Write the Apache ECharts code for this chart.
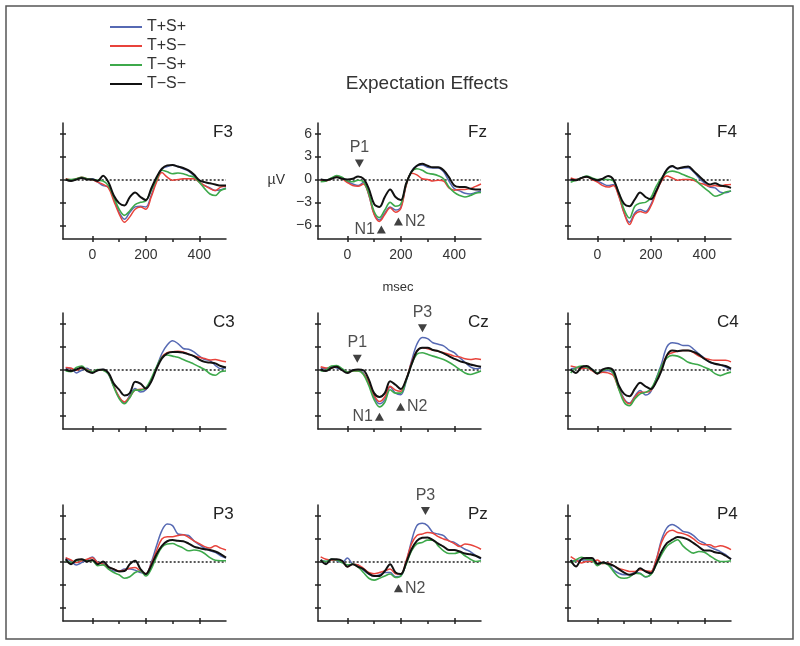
<!DOCTYPE html>
<html><head><meta charset="utf-8">
<script src="https://cdn.jsdelivr.net/npm/echarts@6/dist/echarts.min.js"></script>
<style>html,body{margin:0;padding:0;background:#fff}#c{width:800px;height:646px}</style>
</head><body><div id="c"></div>
<script>
// ---------- DATA ----------
const times = [-100,-80,-60,-40,-20,0,20,40,60,80,100,120,140,160,180,200,220,240,260,280,300,320,340,360,380,400,420,440,460,480,500];
const seriesNames = ['T+S+','T+S\u2212','T\u2212S+','T\u2212S\u2212'];
const panelNames = ['F3','Fz','F4','C3','Cz','C4','P3','Pz','P4'];
const xTickValues = [0,100,200,300,400];
const xLabelValues = [0,200,400];
const yTickValues = [-6,-3,0,3,6];

// F3
const f3Blue  = [0,-0.1,0.05,0.25,0.1,0.1,-0.35,-0.8,-1.0,-2.5,-4.3,-5.2,-4.3,-3.6,-3.5,-3.6,-2.1,-0.1,1.4,1.7,1.85,1.7,1.4,1.1,0.5,-0.35,-0.8,-1.1,-1.45,-1.35,-1.1];
const f3Red   = [0.1,-0.05,0.1,0.3,0.1,-0.05,-0.35,-0.65,-1.1,-2.8,-4.5,-5.6,-4.9,-3.9,-3.6,-3.9,-2.3,-0.35,0.9,0.3,-0.1,0,0.1,0.1,0.1,-0.35,-0.8,-1.2,-1.45,-1.0,-0.9];
const f3Green = [0,0,0.1,0.3,0.1,0,-0.1,-0.2,-0.8,-2.3,-3.9,-4.7,-4.1,-3.3,-3.0,-2.8,-1.45,0,1.2,1.0,0.75,0.85,0.75,0.5,0.3,-0.35,-1.2,-1.9,-2.1,-1.45,-1.2];
const f3Black = [0,-0.2,0,0.2,0,0,-0.2,0.5,-0.35,-2.1,-3.1,-3.4,-2.3,-1.7,-2.3,-2.7,-1.2,0.3,1.4,1.85,1.9,1.7,1.5,1.2,0.65,-0.1,-0.35,-0.5,-0.65,-0.8,-0.8];
// Fz
const fzBlue  = [0,-0.1,0.1,0.4,0.2,-0.3,-0.6,-0.8,-0.4,-2.0,-4.5,-5.3,-4.4,-3.6,-4.0,-3.6,-0.7,1.1,1.8,1.9,1.6,1.5,1.5,1.0,-0.2,-1.2,-1.5,-1.8,-1.9,-1.7,-1.5];
const fzRed   = [-0.1,-0.2,0.1,0.4,0.1,-0.4,-0.8,-0.9,-0.6,-2.0,-4.6,-5.5,-4.6,-3.7,-4.3,-3.8,-0.8,0.8,0.6,0.1,0,-0.2,-0.1,-0.2,-1.1,-1.4,-1.3,-1.3,-1.2,-0.9,-0.6];
const fzGreen = [-0.3,-0.2,0.2,0.5,0.3,-0.2,-0.3,-0.1,-0.3,-1.8,-4.2,-5.0,-4.0,-3.0,-3.5,-3.2,-0.6,1.0,1.4,1.2,0.8,0.7,0.5,0.1,-1.0,-1.7,-2.1,-2.3,-2.1,-1.8,-1.7];
const fzBlack = [0,-0.1,0.1,0.3,0.1,0,0.1,0.4,0.1,-1.2,-3.2,-3.6,-2.3,-1.3,-2.3,-2.7,-0.5,1.0,1.8,2.05,1.8,1.6,1.6,1.2,0.3,-0.8,-1.0,-1.0,-1.2,-1.3,-1.3];
// F4
const f4Blue  = [-0.1,0,0.2,0.35,0.1,-0.2,-0.55,-0.8,-0.65,-2.1,-4.4,-5.6,-4.4,-3.95,-4.2,-3.3,-1.5,0,1.3,1.7,1.4,1.5,1.55,1.0,0.2,-0.45,-1.0,-1.1,-1.65,-1.75,-1.5];
const f4Red   = [0.2,0,0.15,0.35,0,-0.35,-0.8,-1.0,-0.8,-2.2,-4.4,-5.9,-4.6,-4.2,-4.4,-3.5,-1.75,-0.2,0.45,0.2,-0.1,0,0,-0.1,-0.45,-0.65,-0.9,-0.8,-0.9,-0.7,-0.65];
const f4Green = [-0.35,-0.1,0.2,0.45,0.2,0,0,0,-0.2,-1.75,-3.95,-5.05,-3.5,-3.1,-3.0,-2.4,-0.9,0.2,0.9,1.1,0.95,0.65,0.35,0.1,-0.5,-1.1,-1.65,-2.2,-2.0,-1.65,-1.5];
const f4Black = [0,-0.1,0.2,0.35,0.1,-0.1,0.1,0.45,0,-1.75,-3.2,-3.5,-2.6,-1.7,-2.3,-2.6,-1.5,0,1.3,1.75,1.45,1.6,1.7,1.1,0.45,-0.2,-0.65,-0.5,-0.8,-0.9,-1.1];
// C3
const c3Blue  = [0.15,0.15,-0.45,-0.1,0.15,-0.3,-0.1,0,-0.6,-2.2,-3.6,-4.4,-3.4,-2.5,-2.95,-2.65,-1.4,0.25,2.1,3.2,3.75,3.4,2.75,2.65,2.3,1.75,1.3,1.15,0.55,0.1,0.25];
const c3Red   = [0.25,0.15,-0.1,0.15,0,-0.3,-0.1,-0.1,-0.55,-2.2,-3.6,-4.25,-3.6,-2.7,-2.6,-2.5,-1.4,0.15,1.65,2.2,2.3,2.4,2.3,2.0,1.75,1.6,1.45,1.25,1.3,1.15,1.0];
const c3Green = [-0.2,-0.3,0.25,0.45,-0.1,-0.3,0,-0.1,-0.6,-2.3,-3.8,-4.5,-3.7,-2.7,-2.7,-2.4,-1.2,0.35,1.6,1.9,1.75,1.6,1.3,1.0,0.7,0.35,0,-0.55,-0.75,-0.3,-0.2];
const c3Black = [0,-0.2,0,0.25,-0.2,-0.45,-0.1,0,-0.45,-1.85,-2.65,-3.4,-3.1,-1.6,-1.85,-2.5,-1.6,0.1,1.45,2.1,2.3,2.3,2.2,2.0,1.75,1.3,1.0,0.9,0.8,0.45,0.25];
// Cz
const czBlue  = [0.2,0.1,0.35,0.2,0,-0.35,-0.1,-0.1,-0.45,-1.85,-3.6,-4.5,-3.95,-2.3,-3.1,-3.3,-1.55,1.1,3.3,4.2,4.05,3.5,3.3,3.1,2.55,2.2,1.55,0.95,0.35,0.1,0.2];
const czRed   = [0.35,0.2,0.2,0.35,0,-0.35,-0.2,-0.2,-0.55,-1.75,-3.4,-4.2,-3.6,-2.2,-2.7,-2.85,-1.3,0.9,2.4,2.85,2.7,2.55,2.4,2.2,2.0,1.75,1.65,1.4,1.3,1.4,1.3];
const czGreen = [-0.2,-0.1,0.45,0.5,0.1,-0.35,-0.2,-0.2,-0.65,-2.1,-3.95,-4.9,-4.3,-2.65,-3.1,-3.1,-1.4,0.65,2.0,2.2,2.0,1.75,1.55,1.3,0.95,0.5,0,-0.45,-0.65,-0.45,-0.2];
const czBlack = [0,-0.2,0.2,0.35,-0.1,-0.45,-0.1,0,-0.1,-1.3,-3.1,-3.6,-3.1,-1.55,-2.0,-2.55,-1.3,0.65,2.4,2.85,2.85,2.55,2.4,2.1,1.75,1.4,1.1,0.9,0.65,0.5,0.35];
// C4
const c4Blue  = [0.1,0.2,0.3,0.2,0,-0.45,-0.25,-0.15,-0.55,-2.3,-3.85,-4.4,-3.5,-2.75,-3.35,-2.9,-1.2,0.75,2.95,3.5,3.4,3.15,3.15,2.65,2.05,1.5,0.95,0.75,0.6,0.3,0];
const c4Red   = [0.45,0.3,0.1,0.2,-0.15,-0.55,-0.35,-0.45,-0.8,-2.55,-3.95,-4.5,-3.65,-3.0,-3.0,-2.75,-1.45,0.3,1.85,2.2,2.4,2.5,2.5,2.2,1.75,1.5,1.3,1.2,1.2,1.2,1.0];
const c4Green = [-0.45,0.2,0.45,0.3,0,-0.45,-0.15,0.1,-0.55,-2.55,-4.3,-4.75,-3.85,-3.2,-3.0,-2.55,-1.25,0.45,1.5,1.85,1.75,1.4,0.95,0.75,0.6,0.3,0,-0.55,-0.8,-0.55,-0.35];
const c4Black = [0,-0.45,0.3,0.45,0,-0.55,0,0.2,-0.15,-2.1,-3.2,-3.5,-2.55,-1.75,-2.2,-2.55,-1.65,-0.15,1.85,2.5,2.4,2.5,2.5,2.3,1.95,1.4,1.0,0.75,0.6,0.45,0.1];
// P3
const p3Blue  = [0.45,0,-0.45,-0.15,0.2,0.6,-0.15,-0.25,-0.9,-1.25,-1.25,-1.0,-1.0,-1.15,-1.45,-1.65,-0.15,2.05,4.05,4.9,4.7,3.6,3.5,3.4,2.7,2.2,1.75,1.4,1.2,0.75,0.45];
const p3Red   = [0.5,0.2,-0.15,0.1,0.3,0.5,-0.15,-0.35,-0.8,-1.0,-1.25,-1.15,-0.9,-0.8,-1.25,-1.6,-0.35,1.4,2.95,3.25,3.25,3.4,3.5,3.15,2.7,2.35,1.95,1.75,2.05,1.75,1.5];
const p3Green = [0.1,-0.15,0.1,0.25,0.1,0.1,-0.55,-0.45,-1.0,-1.45,-1.75,-2.2,-2.0,-1.45,-1.25,-1.9,-1.0,0.6,1.85,2.3,2.35,2.05,1.75,1.4,1.5,1.4,1.05,0.5,0.15,0.1,0.1];
const p3Black = [0.3,-0.35,0.2,0.3,0,0.2,-0.35,0,-0.7,-1.0,-1.3,-1.25,-0.35,0.1,-1.0,-1.65,-0.55,0.95,2.05,2.65,2.8,2.7,2.65,2.35,1.95,1.75,1.6,1.5,1.3,0.95,0.5];
// Pz
const pzBlue  = [0.2,0,0.3,0.1,-0.15,0.45,-0.35,-0.45,-1.15,-1.65,-1.9,-1.75,-1.45,-1.45,-2.0,-1.9,-0.15,2.7,4.7,5.0,4.7,3.8,3.6,3.4,2.7,2.5,2.05,1.6,1.3,0.75,0.3];
const pzRed   = [0.6,0.3,0.2,0.2,0,-0.7,-0.35,-0.45,-0.9,-1.45,-1.6,-1.45,-1.25,-1.0,-1.6,-1.65,0.1,2.3,3.4,3.6,3.8,3.7,3.25,2.95,2.7,2.35,1.95,2.3,2.2,1.95,1.6];
const pzGreen = [0.1,0,0.3,0.2,-0.15,-0.45,-0.35,-0.7,-1.45,-2.2,-2.45,-2.2,-1.9,-1.65,-2.1,-1.9,-0.35,1.4,2.3,2.5,2.8,2.8,2.05,1.4,1.05,1.05,1.2,0.75,0.3,0,0.1];
const pzBlack = [0.2,-0.35,0.3,0.3,0.1,-0.7,-0.35,-0.7,-1.0,-1.6,-1.9,-1.9,-1.25,-0.35,-1.45,-1.65,-0.15,1.6,2.7,3.1,3.15,2.8,2.35,1.95,1.5,1.5,1.3,1.05,0.95,0.75,0.45];
// P4
const p4Blue  = [0.1,0.1,0.2,0.2,0.2,-0.45,-0.2,-0.3,-1.1,-1.55,-1.75,-1.75,-1.45,-1.55,-2.05,-1.6,0.2,2.85,4.4,4.85,4.5,3.95,3.8,3.4,2.75,2.4,1.9,1.6,1.3,0.9,0.3];
const p4Red   = [0.65,0.2,-0.2,0,0,0.2,-0.3,-0.2,-0.55,-0.9,-1.1,-1.3,-1.3,-1.1,-1.2,-1.3,0.2,2.5,3.75,4.1,3.8,3.65,3.4,2.95,2.4,2.2,2.2,1.9,2.05,1.9,1.55];
const p4Green = [-0.2,0.2,0.55,0.3,0.2,-0.55,-0.2,-0.45,-1.3,-2.05,-2.2,-2.05,-1.55,-1.6,-2.0,-1.75,-0.45,0.9,2.0,2.5,2.85,2.05,1.45,1.1,1.3,1.2,0.75,0.3,0,0,0.1];
const p4Black = [0.2,-0.65,0.3,0.45,0.45,-0.3,-0.15,-0.3,-0.55,-1.0,-1.45,-1.75,-1.55,-0.9,-1.3,-1.55,-0.3,1.3,2.4,2.85,3.2,3.1,2.85,2.4,1.9,1.45,1.45,1.2,1.1,0.75,0.3];

// ERP component markers (panel, label, latency ms, amplitude µV, direction)
const componentMarks = [
  ['Fz','P1',45,2.1,'down'],['Fz','N1',127,-6.55,'up'],['Fz','N2',191,-5.5,'up'],
  ['Cz','P1',37,1.4,'down'],['Cz','P3',281,5.4,'down'],['Cz','N1',120,-6.2,'up'],['Cz','N2',199,-4.9,'up'],
  ['Pz','P3',292,6.6,'down'],['Pz','N2',191,-3.5,'up']
];

const panelData = {
  F3:[f3Blue,f3Red,f3Green,f3Black], Fz:[fzBlue,fzRed,fzGreen,fzBlack], F4:[f4Blue,f4Red,f4Green,f4Black],
  C3:[c3Blue,c3Red,c3Green,c3Black], Cz:[czBlue,czRed,czGreen,czBlack], C4:[c4Blue,c4Red,c4Green,c4Black],
  P3:[p3Blue,p3Red,p3Green,p3Black], Pz:[pzBlue,pzRed,pzGreen,pzBlack], P4:[p4Blue,p4Red,p4Green,p4Black]
};

// ---------- LAYOUT / STYLE ----------
const FONT = '"Liberation Sans", Arial, Helvetica, sans-serif';
const colors = ['#5669b3','#e8433b','#3da94b','#111111'];
const widths = [1.5,1.5,1.6,2];
const colLeft = [63,318,568];
const rowTop = [123,313,505];
const GW = 163, GH = 116;
const X_MIN = -110, X_MAX = 500, Y_MIN = -7.8, Y_MAX = 7.4;
const axisCol = '#222';
const minus = v => String(v).replace('-', '\u2212');

const grids = [], xAxes = [], yAxes = [], series = [], graphics = [];
panelNames.forEach((name, i) => {
  const r = Math.floor(i / 3), c = i % 3;
  grids.push({left: colLeft[c], top: rowTop[r], width: GW, height: GH});
  const gx = xAxes.length, gy = yAxes.length;
  xAxes.push({type:'value', gridIndex:i, min:X_MIN, max:X_MAX, position:'bottom',
    axisLine:{show:true, onZero:false, lineStyle:{color:axisCol, width:1.5}},
    axisTick:{show:true, customValues:xTickValues, length:3, lineStyle:{color:axisCol, width:1.5}},
    axisLabel:{show:r===0, customValues:xLabelValues, fontSize:14, color:'#333', fontFamily:FONT, margin:9},
    splitLine:{show:false}});
  xAxes.push({type:'value', gridIndex:i, min:X_MIN, max:X_MAX, position:'bottom',
    axisLine:{show:false, onZero:false},
    axisTick:{show:true, inside:true, customValues:xLabelValues, length:3, lineStyle:{color:axisCol, width:1.5}},
    axisLabel:{show:false}, splitLine:{show:false}});
  yAxes.push({type:'value', gridIndex:i, min:Y_MIN, max:Y_MAX, position:'left',
    axisLine:{show:true, onZero:false, lineStyle:{color:axisCol, width:1.5}},
    axisTick:{show:true, customValues:yTickValues, length:3, lineStyle:{color:axisCol, width:1.5}},
    axisLabel:{show:name==='Fz', customValues:yTickValues, formatter:minus, fontSize:14, color:'#333', fontFamily:FONT, margin:6},
    splitLine:{show:false}});
  yAxes.push({type:'value', gridIndex:i, min:Y_MIN, max:Y_MAX, position:'left',
    axisLine:{show:false, onZero:false},
    axisTick:{show:true, inside:true, customValues:yTickValues, length:3, lineStyle:{color:axisCol, width:1.5}},
    axisLabel:{show:false}, splitLine:{show:false}});

  panelData[name].forEach((arr, k) => {
    const s = {type:'line', name:seriesNames[k], xAxisIndex:gx, yAxisIndex:gy,
      data: times.map((t, j) => [t, arr[j]]), showSymbol:false, symbol:'none', smooth:0.35,
      lineStyle:{color:colors[k], width:widths[k]}, itemStyle:{color:colors[k]}, z:2+k, silent:true};
    if (k === 0) {
      s.markLine = {silent:true, symbol:'none', label:{show:false}, z:1,
        lineStyle:{type:[2,2], color:'#222', width:1.5},
        data:[[{coord:[times[0],0]},{coord:[times[times.length-1],0]}]]};
    }
    series.push(s);
  });

  const marks = componentMarks.filter(m => m[0] === name);
  if (marks.length) {
    series.push({type:'scatter', name:'marks-'+name, xAxisIndex:gx, yAxisIndex:gy, z:10, silent:true,
      symbol:'triangle', symbolSize:[9,8],
      itemStyle:{color:'#111'},
      data: marks.map(m => ({value:[m[2], m[3]], symbolRotate: m[4]==='down' ? 180 : 0,
        label:{show:true, formatter:m[1],
          position: m[4]==='down' ? 'top' : (m[1]==='N1' ? 'left' : 'right'),
          distance: m[4]==='down' ? 4 : 2,
          fontSize:16, color:'#222', fontFamily:FONT}}))});
  }

  graphics.push({type:'text', left: colLeft[c] + GW + (c===2 ? 10 : 11) - 24, top: rowTop[r] + 1,
    style:{text:name, font:'17px ' + FONT, fill:'#222'}});
});

graphics.push({type:'rect', shape:{x:6, y:6, width:787, height:633}, style:{fill:'none', stroke:'#555', lineWidth:1.5}});
graphics.push({type:'text', x:427, y:84, style:{text:'Expectation Effects', font:'19px ' + FONT, fill:'#333', textAlign:'center', textVerticalAlign:'middle'}});
graphics.push({type:'text', x:285, y:180, style:{text:'\u00b5V', font:'14px ' + FONT, fill:'#333', textAlign:'right', textVerticalAlign:'middle'}});
graphics.push({type:'text', x:398, y:287, style:{text:'msec', font:'13px ' + FONT, fill:'#333', textAlign:'center', textVerticalAlign:'middle'}});

const chart = echarts.init(document.getElementById('c'));
chart.setOption({
  animation:false,
  backgroundColor:'#fff',
  legend:{data:seriesNames, orient:'vertical', left:110, top:19, padding:0, itemWidth:32, itemHeight:2, itemGap:3, icon:'rect',
    textStyle:{fontSize:16, lineHeight:16, color:'#333', fontFamily:FONT}, selectedMode:false},
  grid:grids, xAxis:xAxes, yAxis:yAxes, series:series, graphic:graphics
});
</script></body></html>
